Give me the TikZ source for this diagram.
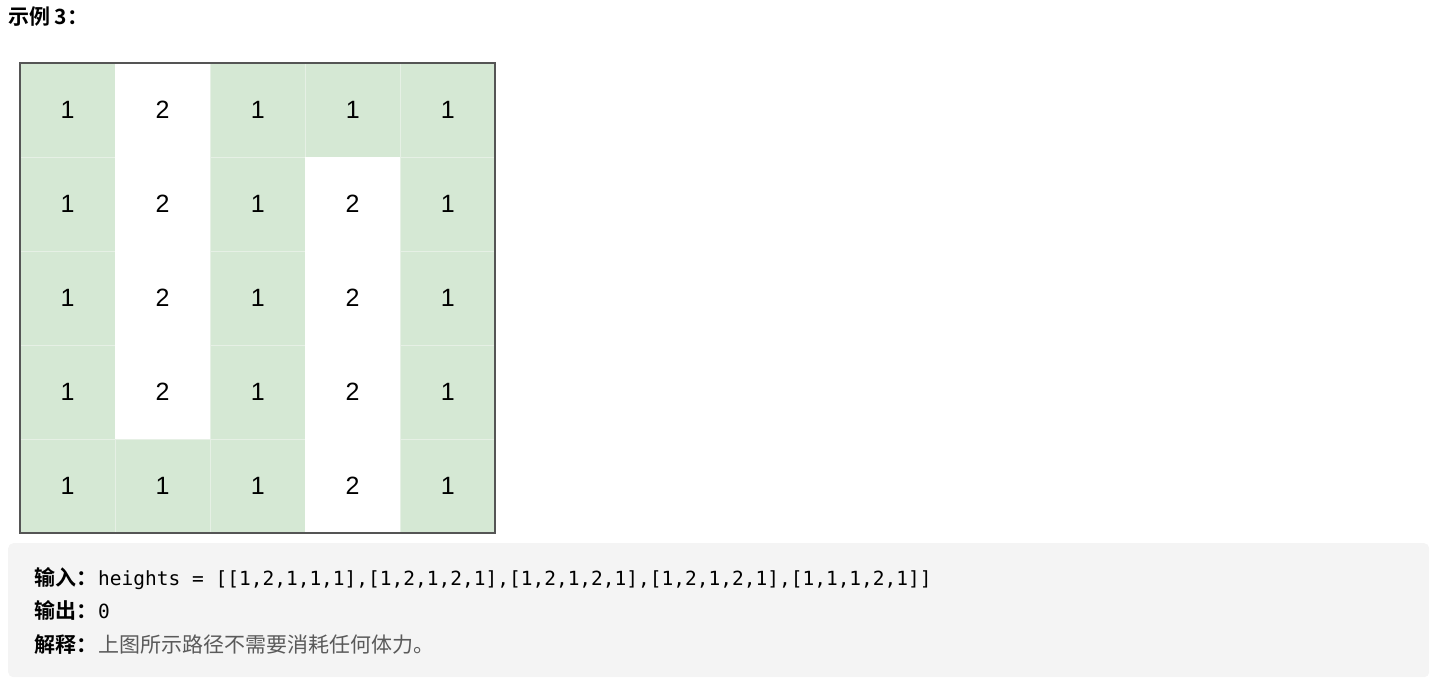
\documentclass[tikz,border=0pt]{standalone}
\usepackage{fontspec}
\usepackage{xcolor}
\usepackage{tikz}
\usetikzlibrary{positioning}
\setmainfont{Liberation Sans}
\setmonofont{DejaVu Sans Mono}
\newfontfamily\cjk{Noto Sans CJK SC}[BoldFont={Noto Sans CJK SC Bold}]
\definecolor{cellgreen}{HTML}{D5E8D4}
\definecolor{cellline}{HTML}{E6F0E5}
\definecolor{gridedge}{HTML}{555555}
\definecolor{boxgray}{HTML}{F4F4F4}
\definecolor{notegray}{HTML}{5A5A5A}

\begin{document}
\begin{tikzpicture}[x=1pt, y=-1pt,
  cellbox/.style={anchor=north west, minimum width=94.6pt, minimum height=93.6pt, inner sep=0pt,
    font=\fontsize{25}{25}\selectfont},
  h1/.style={cellbox, fill=cellgreen, draw=cellline, line width=0.8pt},
  h2/.style={cellbox, fill=white},
  lbl/.style={anchor=base west, inner sep=0pt, font=\cjk\bfseries\fontsize{21}{21}\selectfont}]
  \useasboundingbox (0,0) rectangle (1443,687);
  \node[anchor=base west, inner sep=0pt, font=\cjk\bfseries\fontsize{21}{21}\selectfont] (title) at (8,25) {示例 3：};
  % height grid
  \foreach \row [count=\r from 0] in {{1,2,1,1,1},{1,2,1,2,1},{1,2,1,2,1},{1,2,1,2,1},{1,1,1,2,1}} {
    \foreach \v [count=\c from 0] in \row {
      \node[h\v] (c\r\c) at (20+95*\c, 63+94*\r) {\v};
    }
  }
  \draw[gridedge, line width=2pt] (c00.north west) rectangle (c44.south east);
  % example box
  \node[anchor=north west, minimum width=1421pt, minimum height=134pt, fill=boxgray, rounded corners=5pt] (outbox) at (8,543) {};
  \node[lbl] (inlbl) at (34,585) {输入：};
  \node[anchor=base west, inner sep=0pt, font=\ttfamily\fontsize{19.5}{19.5}\selectfont] (intxt) at (98,585) {heights = [[1,2,1,1,1],[1,2,1,2,1],[1,2,1,2,1],[1,2,1,2,1],[1,1,1,2,1]]};
  \node[lbl] (outlbl) at (34,618) {输出：};
  \node[anchor=base west, inner sep=0pt, font=\ttfamily\fontsize{19.5}{19.5}\selectfont] (outtxt) at (98,618) {0};
  \node[lbl] (notelbl) at (34,652) {解释：};
  \node[anchor=base west, inner sep=0pt, text=notegray, font=\cjk\fontsize{21}{21}\selectfont] (notetxt) at (98,652) {上图所示路径不需要消耗任何体力。};
\end{tikzpicture}
\end{document}
